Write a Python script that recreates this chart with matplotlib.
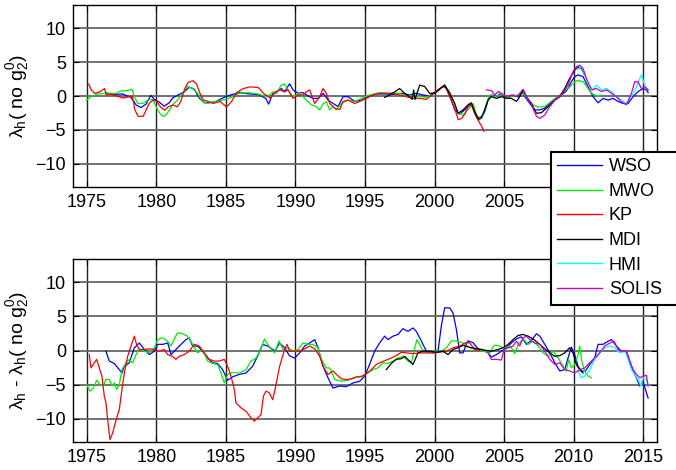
import matplotlib
matplotlib.use("Agg")
import matplotlib.pyplot as plt
from matplotlib.lines import Line2D

plt.rcParams['font.family'] = ['Liberation Sans', 'DejaVu Sans']
plt.rcParams['mathtext.default'] = 'regular'

# ---- upper panel: lambda_h (no g2^0) ----
wso_t_yr = [1976.37, 1976.85, 1977.57, 1978.17, 1978.53, 1978.89, 1979.25, 1979.6, 1979.85, 1980.2,
            1980.56, 1980.92, 1981.16, 1981.64, 1982.0, 1982.36, 1982.72, 1983.08, 1983.44, 1983.8,
            1984.28, 1984.76, 1985.24, 1985.96, 1986.68, 1987.4, 1987.88, 1988.07, 1988.38, 1988.62,
            1988.98, 1989.22, 1989.58, 1989.82, 1990.18, 1990.54, 1990.9, 1991.26, 1991.62, 1992.0,
            1992.34, 1992.7, 1993.06, 1993.42, 1993.78, 1994.26, 1994.74, 1995.21, 1995.81, 1996.41,
            1997.01, 1997.61, 1998.21, 1998.69, 1999.17, 1999.65, 2000.13, 2000.61, 2000.85, 2001.21,
            2001.45, 2001.81, 2002.17, 2002.41, 2002.65, 2002.89, 2003.13, 2003.37, 2003.61, 2003.85,
            2004.09, 2004.45, 2004.69, 2004.93, 2005.29, 2005.65, 2006.01, 2006.3, 2006.49, 2006.85,
            2007.21, 2007.57, 2007.93, 2008.41, 2008.89, 2009.36, 2009.6, 2009.84, 2010.08, 2010.32,
            2010.68, 2011.04, 2011.4, 2011.76, 2012.12, 2012.48, 2012.84, 2013.2, 2013.56, 2013.92,
            2014.28, 2014.64, 2015.0, 2015.24, 2015.36]
wso_t = [0.5, 0.2, 0.3, -0.2, -1.3, -1.7, -1.2, 0.1, -0.5, -0.9,
         -1.5, -1.0, -0.3, 0.25, 0.6, 1.3, 1.0, -0.3, -1.0, -1.0,
         -0.8, -0.3, 0.1, 0.5, 0.3, 0.2, -0.4, -1.2, 0.4, 0.65,
         1.1, 0.65, 1.8, 0.9, 0.4, 0.5, 0.0, -0.35, -0.35, 0.4,
         -0.6, -1.1, -1.55, -0.1, -0.1, -0.8, -0.6, -0.1, 0.3, 0.3,
         0.25, 0.4, 0.15, 0.4, 0.15, 0.0, 0.6, 1.4, 1.15, -0.6,
         -2.05, -2.65, -2.05, -1.55, -1.1, -2.55, -3.5, -3.3, -2.3, -0.6,
         0.15, -0.1, 0.3, -0.1, -0.2, 0.15, -0.1, 0.65, -0.1, -1.1,
         -2.05, -2.05, -1.8, -0.8, -0.1, 0.5, 1.1, 2.1, 2.85, 3.1,
         2.85, 1.35, -0.1, -1.0, -0.35, -0.6, -0.35, -0.8, -1.1, -1.1,
         -0.1, 0.65, 1.1, 0.9, 0.5]

mwo_t_yr = [1974.98, 1975.29, 1975.77, 1976.37, 1977.09, 1977.45, 1977.93, 1978.24, 1978.41, 1978.65,
            1979.01, 1979.37, 1979.73, 1980.09, 1980.33, 1980.56, 1980.8, 1981.16, 1981.52, 1981.88,
            1982.24, 1982.6, 1982.96, 1983.32, 1983.68, 1984.04, 1984.52, 1985.0, 1985.48, 1985.96,
            1986.68, 1987.4, 1987.88, 1988.14, 1988.38, 1988.62, 1988.98, 1989.22, 1989.46, 1989.82,
            1990.3, 1990.78, 1991.14, 1991.5, 1991.74, 1992.0, 1992.22, 1992.46, 1992.7, 1992.94,
            1993.3, 1993.78, 1994.26, 1994.74, 1995.33, 1996.05, 1996.77, 1997.49, 1997.97, 1998.45,
            1998.93, 1999.41, 1999.89, 2000.37, 2000.73, 2001.09, 2001.45, 2001.69, 2002.05, 2002.4,
            2002.77, 2003.01, 2003.25, 2003.49, 2003.73, 2003.97, 2004.33, 2004.69, 2005.05, 2005.53,
            2006.01, 2006.37, 2006.73, 2007.09, 2007.45, 2007.93, 2008.41, 2008.89, 2009.36, 2009.6,
            2009.95, 2010.25, 2010.7, 2011.0, 2011.3, 2011.7, 2012.0]
mwo_t = [-0.6, -0.1, 0.3, 0.4, 0.4, 0.75, 0.8, 1.0, -0.1, -1.1,
         -1.1, -0.6, -0.5, -2.05, -2.8, -3.0, -2.5, -1.3, -0.6, 0.4,
         1.4, 1.1, 0.4, -0.8, -1.1, -0.85, -0.7, -0.5, -0.1, 0.4,
         0.5, 0.25, -0.1, 0.15, 0.6, 0.4, 1.6, 1.75, 0.9, -0.1,
         0.4, -0.6, -1.3, -1.55, -2.05, -1.1, -0.85, -2.05, -1.55, -2.05,
         -1.1, -0.6, -0.85, -0.35, 0.15, 0.5, 0.4, 0.4, -0.1, 0.15,
         -0.1, -0.2, 0.4, 1.1, 1.6, 0.6, -1.1, -2.5, -2.8, -2.0,
         -1.1, -2.8, -3.3, -2.8, -1.1, 0.15, -0.1, 0.15, -0.35, -0.1,
         0.15, 0.4, -0.6, -1.3, -1.65, -1.55, -0.8, -0.1, 0.9, 1.1,
         1.8, 2.3, 2.1, 1.2, 0.4, 0.0, 0.15]

kp_t_yr = [1975.14, 1975.31, 1975.55, 1975.91, 1976.27, 1976.39, 1976.75, 1977.12, 1977.6, 1978.08,
           1978.27, 1978.44, 1978.68, 1979.04, 1979.23, 1979.47, 1979.76, 1980.0, 1980.29, 1980.6,
           1980.84, 1981.2, 1981.49, 1981.73, 1982.04, 1982.28, 1982.64, 1982.88, 1983.13, 1983.37,
           1983.73, 1984.09, 1984.57, 1985.05, 1985.41, 1985.77, 1986.25, 1986.73, 1987.33, 1987.69,
           1988.17, 1988.5, 1988.86, 1989.22, 1989.46, 1989.82, 1990.18, 1990.54, 1990.78, 1991.02,
           1991.38, 1991.74, 1991.98, 1992.22, 1992.46, 1992.82, 1993.18, 1993.42, 1993.78, 1994.26,
           1994.62, 1995.1, 1995.58, 1996.05, 1996.53, 1997.01, 1997.49, 1997.97, 1998.45, 1998.93,
           1999.41, 1999.89, 2000.37, 2000.73, 2001.09, 2001.45, 2001.7, 2001.95, 2002.2, 2002.5,
           2002.7, 2003.0, 2003.2, 2003.4, 2003.55]
kp_t = [1.76, 0.9, 0.4, 0.6, 1.1, 0.15, 0.3, 0.0, -0.3, -0.1,
        0.0, -2.0, -3.0, -3.0, -2.2, -1.1, -0.6, -0.8, -1.6, -2.1,
        -1.6, -1.3, -1.6, -0.9, 1.1, 2.0, 2.25, 1.8, 0.4, -0.6,
        -0.8, -1.1, -0.8, -1.6, -0.8, 0.5, 1.1, 1.35, 1.25, 0.4,
        -0.3, 0.4, 0.9, 0.6, 0.9, -0.35, 0.15, 0.15, 0.6, 0.9,
        -1.1, -0.1, 1.1, 0.4, -1.1, -1.8, -2.0, -0.8, -0.6, -1.1,
        -0.8, -0.35, 0.15, 0.4, 0.4, 0.4, 0.15, -0.1, -0.35, -0.35,
        -0.5, 0.4, 1.1, 1.6, -0.1, -1.8, -3.5, -3.3, -2.6, -1.2,
        -1.6, -3.0, -3.8, -4.5, -5.2]

mdi_t_yr = [1996.41, 1996.77, 1997.13, 1997.49, 1997.85, 1998.21, 1998.4, 1998.5, 1998.6, 1998.93,
            1999.29, 1999.65, 2000.01, 2000.37, 2000.73, 2001.09, 2001.45, 2001.69, 2002.05, 2002.41,
            2002.65, 2002.89, 2003.13, 2003.37, 2003.61, 2003.85, 2004.09, 2004.45, 2004.81, 2005.17,
            2005.53, 2005.89, 2006.13, 2006.37, 2006.61, 2006.97, 2007.33, 2007.69, 2008.05, 2008.53,
            2009.01, 2009.36, 2009.72, 2010.08, 2010.32, 2010.56, 2010.8]
mdi_t = [-0.2, 0.15, 0.6, 1.1, 0.4, -0.1, -0.5, 0.9, -0.5, 1.6,
         1.4, 0.4, 0.4, 1.0, 1.6, 0.4, -1.1, -2.55, -2.05, -1.3,
         -1.0, -2.3, -3.3, -3.1, -2.05, -0.6, -0.1, -0.35, -0.1, -0.35,
         -0.35, -0.8, -0.1, 0.9, -0.1, -1.1, -2.55, -2.45, -1.8, -0.8,
         -0.1, 1.1, 2.6, 3.8, 4.3, 4.05, 3.1]

hmi_t_yr = [2010.3, 2010.56, 2010.8, 2011.04, 2011.4, 2011.64, 2012.0, 2012.36, 2012.72, 2013.08,
            2013.44, 2013.8, 2014.16, 2014.52, 2014.76, 2014.88, 2015.07, 2015.24, 2015.41]
hmi_t = [3.9, 4.3, 3.1, 1.85, 0.9, 1.6, 0.9, 1.1, 0.65, -0.1,
         -0.6, -1.1, -0.1, 1.35, 2.6, 3.1, 1.85, 1.1, 0.9]

solis_t_yr = [2003.73, 2004.09, 2004.33, 2004.57, 2004.81, 2005.17, 2005.53, 2005.89, 2006.13, 2006.37,
              2006.61, 2006.97, 2007.33, 2007.57, 2007.93, 2008.29, 2008.77, 2009.24, 2009.6, 2009.96,
              2010.2, 2010.44, 2010.68, 2010.92, 2011.28, 2011.64, 2012.0, 2012.36, 2012.72, 2013.08,
              2013.44, 2013.8, 2014.16, 2014.4, 2014.64, 2014.88, 2015.12, 2015.36]
solis_t = [0.9, 0.8, 0.15, 0.65, 0.4, -0.1, 0.15, -0.1, 0.4, 1.0,
           -0.1, -1.3, -3.0, -3.3, -2.8, -1.55, -0.35, 0.4, 1.6, 3.6,
           4.3, 4.55, 4.05, 2.6, 0.9, 1.1, 0.65, 0.9, 0.4, -0.1,
           -0.85, -1.3, 0.4, 2.1, 2.1, 1.1, 1.35, 0.9]

# ---- lower panel: lambda_h - lambda_h (no g2^0) ----
wso_b_yr = [1976.37, 1976.61, 1976.97, 1977.33, 1977.52, 1977.69, 1978.05, 1978.41, 1978.77, 1979.13,
            1979.49, 1979.85, 1980.09, 1980.45, 1980.81, 1981.05, 1981.4, 1981.77, 1982.12, 1982.36,
            1982.6, 1982.96, 1983.32, 1983.68, 1984.04, 1984.4, 1984.76, 1985.12, 1985.48, 1985.96,
            1986.44, 1986.92, 1987.28, 1987.64, 1988.0, 1988.36, 1988.5, 1988.86, 1989.22, 1989.58,
            1989.94, 1990.3, 1990.66, 1991.02, 1991.38, 1991.62, 1991.98, 1992.34, 1992.7, 1993.18,
            1993.66, 1994.14, 1994.62, 1994.98, 1995.33, 1995.69, 1996.05, 1996.41, 1996.65, 1997.01,
            1997.37, 1997.73, 1998.09, 1998.45, 1998.69, 1999.05, 1999.41, 1999.89, 2000.25, 2000.49,
            2000.73, 2001.09, 2001.33, 2001.57, 2001.81, 2002.05, 2002.29, 2002.41, 2002.77, 2003.13,
            2003.49, 2003.85, 2004.09, 2004.45, 2004.81, 2005.17, 2005.53, 2005.89, 2006.25, 2006.61,
            2006.97, 2007.33, 2007.57, 2007.93, 2008.29, 2008.65, 2009.01, 2009.36, 2009.6, 2009.84,
            2010.08, 2010.32, 2010.56, 2010.85, 2011.16, 2011.52, 2011.76, 2012.12, 2012.48, 2012.72,
            2013.08, 2013.44, 2013.8, 2014.04, 2014.28, 2014.52, 2014.76, 2015.0, 2015.24, 2015.36]
wso_b = [-0.1, -1.55, -1.9, -2.8, -3.3, -2.3, -1.8, 0.4, 1.1, 0.15,
         -0.6, -0.1, 0.9, 0.9, 1.1, -0.6, 0.15, 0.9, 1.6, 1.85,
         0.65, 0.65, -0.1, -1.1, -1.8, -1.9, -2.8, -4.35, -3.85, -3.5,
         -3.3, -2.3, -0.8, 0.9, 0.65, 0.15, -0.1, 1.1, 0.4, -0.8,
         -1.1, -0.35, 0.65, 1.1, 1.6, 0.4, -2.3, -4.0, -5.5, -5.2,
         -5.3, -4.75, -4.5, -3.75, -2.05, -0.1, 1.1, 2.1, 1.6, 2.1,
         2.35, 3.2, 2.8, 3.3, 2.8, 1.4, -0.1, -0.35, -0.1, 3.6,
         6.25, 6.25, 5.5, 3.1, -0.35, -0.35, 0.9, 1.4, 1.15, 0.25,
         0.05, -0.35, -0.95, -0.6, -0.1, 0.4, 1.1, 1.7, 2.0, 0.9,
         1.5, 2.45, 2.1, 0.9, -0.35, -1.8, -3.0, -2.8, -1.1, 0.5,
         -0.6, -2.3, -3.0, -3.0, -2.05, -1.1, 0.9, 0.9, 1.35, 1.6,
         0.65, -0.1, -0.1, -1.55, -3.0, -4.0, -5.2, -4.5, -6.2, -6.95]

mwo_b_yr = [1974.98, 1975.22, 1975.46, 1975.7, 1975.94, 1976.18, 1976.37, 1976.61, 1976.8, 1976.97,
            1977.14, 1977.33, 1977.52, 1977.81, 1978.05, 1978.29, 1978.53, 1978.77, 1979.13, 1979.49,
            1979.85, 1980.09, 1980.45, 1980.81, 1981.05, 1981.28, 1981.52, 1981.88, 1982.24, 1982.6,
            1982.96, 1983.32, 1983.68, 1984.04, 1984.4, 1984.64, 1984.88, 1985.12, 1985.48, 1985.96,
            1986.44, 1986.8, 1987.16, 1987.52, 1987.76, 1988.0, 1988.36, 1988.5, 1988.81, 1989.1,
            1989.46, 1989.82, 1990.18, 1990.54, 1990.9, 1991.26, 1991.62, 1991.86, 1992.22, 1992.46,
            1992.82, 1993.3, 1993.78, 1994.26, 1994.74, 1995.21, 1995.57, 1995.93, 1996.29, 1996.65,
            1997.01, 1997.37, 1997.73, 1998.09, 1998.33, 1998.57, 1998.74, 1998.93, 1999.17, 1999.53,
            2000.01, 2000.49, 2000.85, 2001.21, 2001.57, 2002.05, 2002.53, 2003.01, 2003.49, 2003.97,
            2004.28, 2004.57, 2004.93, 2005.29, 2005.53, 2005.77, 2006.01, 2006.37, 2006.73, 2007.09,
            2007.45, 2007.81, 2008.17, 2008.53, 2008.89, 2009.24, 2009.48, 2009.65, 2009.84, 2010.08,
            2010.32, 2010.44, 2010.61, 2010.8, 2011.04, 2011.28]
mwo_b = [-5.0, -5.95, -5.5, -4.35, -5.0, -5.2, -4.25, -4.25, -5.2, -4.75,
         -5.7, -5.0, -2.8, -1.8, -1.3, -1.8, -0.6, 0.15, -0.1, -0.35,
         0.4, 1.6, 1.85, 1.35, 0.65, 1.7, 2.6, 2.45, 2.1, 0.9,
         -0.35, 0.15, -1.55, -1.9, -2.05, -3.3, -4.75, -3.5, -3.2, -3.3,
         -2.8, -1.55, -1.1, 0.15, 1.7, 0.9, -0.1, -0.35, 1.4, 0.15,
         0.4, -0.1, 0.15, 1.1, 0.9, 0.9, 0.4, -1.3, -2.55, -2.55,
         -4.25, -4.5, -4.35, -4.0, -3.75, -3.3, -2.8, -2.55, -1.8, -1.9,
         -1.55, -1.1, -0.85, -1.55, -1.8, 0.4, 1.6, 0.9, -0.1, -0.35,
         -0.1, -0.1, 0.4, 1.4, 1.4, 1.1, 0.4, 0.15, -0.1, -0.35,
         0.75, 0.75, 0.4, 0.65, 0.4, -0.45, 0.9, 1.7, 0.9, 1.35,
         0.65, -0.35, -0.85, -0.1, -1.1, -2.3, -3.0, -1.3, -2.55, -2.05,
         -0.6, 0.65, -1.8, -3.0, -3.75, -4.0]

kp_b_yr = [1975.17, 1975.29, 1975.53, 1975.7, 1975.89, 1976.08, 1976.25, 1976.37, 1976.49, 1976.66,
           1976.85, 1977.04, 1977.21, 1977.33, 1977.52, 1977.69, 1977.93, 1978.17, 1978.41, 1978.57,
           1978.77, 1979.13, 1979.49, 1979.85, 1980.2, 1980.56, 1980.8, 1981.16, 1981.4, 1981.64,
           1982.0, 1982.36, 1982.72, 1983.08, 1983.44, 1983.8, 1984.16, 1984.52, 1984.88, 1985.12,
           1985.36, 1985.6, 1985.72, 1986.08, 1986.44, 1986.8, 1987.04, 1987.28, 1987.52, 1987.69,
           1987.88, 1988.12, 1988.36, 1988.55, 1988.86, 1989.22, 1989.39, 1989.58, 1989.94, 1990.3,
           1990.66, 1991.02, 1991.38, 1991.74, 1991.98, 1992.34, 1992.7, 1992.94, 1993.3, 1993.66,
           1994.02, 1994.38, 1994.74, 1995.1, 1995.45, 1995.81, 1996.17, 1996.53, 1996.89, 1997.25,
           1997.61, 1997.97, 1998.45, 1998.93, 1999.41, 1999.89, 2000.37, 2000.85, 2001.33, 2001.81,
           2002.29, 2002.53, 2002.89, 2003.25]
kp_b = [-0.6, -2.55, -1.8, -1.3, -2.55, -3.75, -6.7, -7.65, -10.1, -13.05,
        -12.1, -10.6, -9.4, -8.65, -5.7, -3.3, -0.85, 0.65, 2.1, 0.9,
        0.15, 0.15, 0.25, 0.15, -0.1, 0.15, -0.6, -0.85, -1.3, -0.85,
        -0.6, -0.1, 0.9, 0.65, -0.35, -1.3, -1.55, -1.55, -1.3, -2.3,
        -3.75, -5.7, -7.65, -8.4, -8.9, -9.85, -10.35, -9.85, -9.4, -6.7,
        -5.95, -6.2, -7.2, -5.5, -2.3, 0.15, 0.9, -0.1, -0.1, -0.1,
        0.25, 0.65, 0.25, -0.85, -2.3, -3.5, -3.0, -3.5, -4.15, -4.25,
        -4.15, -3.85, -3.85, -3.4, -2.8, -2.05, -1.7, -1.4, -1.1, -0.75,
        -0.25, -0.35, -0.45, -0.35, -0.35, -0.35, -0.25, -0.1, 0.4, 0.65,
        1.2, 1.1, 0.15, 0.0]

mdi_b_yr = [1996.53, 1996.89, 1997.25, 1997.61, 1997.85, 1998.21, 1998.45, 1998.81, 1999.17, 1999.65,
            2000.13, 2000.61, 2000.97, 2001.33, 2001.69, 2002.05, 2002.65, 2003.13, 2003.61, 2004.09,
            2004.57, 2004.93, 2005.29, 2005.65, 2006.01, 2006.37, 2006.73, 2007.09, 2007.45, 2007.93,
            2008.29, 2008.65, 2009.01, 2009.36, 2009.72, 2009.96, 2010.2, 2010.44, 2010.68]
mdi_b = [-2.8, -1.9, -1.3, -1.2, -0.85, -1.55, -2.05, -0.35, -0.1, -0.1,
         -0.25, -0.1, -0.6, 0.15, 0.4, 0.75, 0.4, 0.25, 0.05, -0.1,
         0.15, 0.4, 0.9, 1.6, 2.2, 2.35, 2.1, 1.7, 1.1, 0.25,
         -0.35, -0.85, -0.75, -0.35, 0.4, -0.35, -2.05, -2.8, -3.3]

hmi_b_yr = [2010.32, 2010.56, 2010.8, 2011.16, 2011.52, 2011.88, 2012.24, 2012.6, 2012.96, 2013.32,
            2013.68, 2013.92, 2014.16, 2014.4, 2014.64, 2014.83, 2015.0, 2015.24, 2015.36]
hmi_b = [-3.0, -4.0, -3.75, -2.8, -1.3, -0.35, 0.4, 0.65, 0.4, -0.35,
         -0.1, -1.3, -2.8, -3.5, -4.25, -5.2, -4.0, -4.25, -5.0]

solis_b_yr = [2003.85, 2004.09, 2004.45, 2004.81, 2005.0, 2005.29, 2005.65, 2005.89, 2006.13, 2006.37,
              2006.61, 2006.85, 2007.21, 2007.57, 2007.93, 2008.29, 2008.65, 2009.01, 2009.36, 2009.72,
              2010.08, 2010.44, 2010.8, 2011.16, 2011.52, 2011.88, 2012.24, 2012.6, 2012.91, 2013.2,
              2013.56, 2013.8, 2014.04, 2014.28, 2014.52, 2014.76, 2015.0, 2015.24, 2015.36]
solis_b = [-0.35, -1.3, -1.3, -1.4, 0.15, 0.4, 0.65, 1.35, 0.65, 1.85,
           2.1, 1.6, 1.1, 0.9, -0.1, -1.3, -2.05, -1.8, -2.8, -3.0,
           -3.3, -2.8, -2.55, -1.8, -1.1, -0.35, 0.65, 1.1, 1.35, 0.15,
           -0.1, -0.1, -1.55, -2.8, -3.5, -4.0, -3.75, -3.65, -5.2]

names = ['WSO', 'MWO', 'KP', 'MDI', 'HMI', 'SOLIS']
colors = ['#0000ff', '#00ee00', '#ff0000', '#000000', '#00ffff', '#cc00cc']

top_series = [(wso_t_yr, wso_t), (mwo_t_yr, mwo_t), (kp_t_yr, kp_t),
              (mdi_t_yr, mdi_t), (hmi_t_yr, hmi_t), (solis_t_yr, solis_t)]
bottom_series = [(wso_b_yr, wso_b), (mwo_b_yr, mwo_b), (kp_b_yr, kp_b),
                 (mdi_b_yr, mdi_b), (hmi_b_yr, hmi_b), (solis_b_yr, solis_b)]

W, H = 676, 470
fig = plt.figure(figsize=(W / 100, H / 100), dpi=100)
ax1 = fig.add_axes([73 / W, 1 - 187 / H, 584 / W, 182 / H])
ax2 = fig.add_axes([73 / W, 1 - 442 / H, 584 / W, 183 / H])


def style(ax, ylabel):
    ax.set_xlim(1974, 2016)
    ax.set_ylim(-13.4, 13.4)
    ax.set_xticks(range(1975, 2016, 5))
    ax.set_yticks([-10, -5, 0, 5, 10])
    ax.tick_params(direction='in', length=4, width=0.8, labelsize=13,
                   right=True, top=True, pad=5)
    ax.xaxis.grid(True, color='#202020', lw=1.0)
    ax.yaxis.grid(True, color='#666666', lw=1.3)
    ax.set_axisbelow(True)
    for s in ax.spines.values():
        s.set_linewidth(1.0)
    ax.set_ylabel(ylabel, fontsize=14, labelpad=3)


for (x, y), c in zip(top_series, colors):
    ax1.plot(x, y, color=c, lw=0.9)
for (x, y), c in zip(bottom_series, colors):
    ax2.plot(x, y, color=c, lw=0.9)

style(ax1, 'λ$_h$( no g$_2^0$)')
style(ax2, 'λ$_h$ - λ$_h$( no g$_2^0$)')

handles = [Line2D([], [], color=c, lw=1.0) for c in colors]
leg = fig.legend(handles, names, loc='upper left',
                 bbox_to_anchor=(551 / W, 0, 140 / W, 1 - 152 / H), mode='expand',
                 fontsize=13, frameon=True, fancybox=False, borderaxespad=0,
                 borderpad=0.35, handlelength=2.5, handletextpad=0.35,
                 labelspacing=0.42)
leg.get_frame().set_edgecolor('black')
leg.get_frame().set_linewidth(1.5)
leg.get_frame().set_alpha(1)

fig.savefig('out.png', dpi=100)
